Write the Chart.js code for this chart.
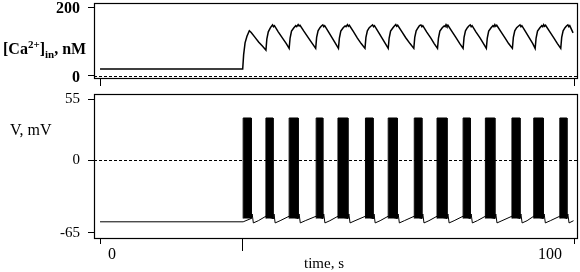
<!DOCTYPE html>
<html><head><meta charset="utf-8">
<script src="https://cdn.jsdelivr.net/npm/chart.js@4.4.1/dist/chart.umd.min.js"></script>
<style>
html,body{margin:0;padding:0;background:#fff;}
#wrap{position:relative;width:580px;height:272px;overflow:hidden;background:#fff;font-family:"Liberation Serif","Times New Roman",serif;color:#000;}
canvas{position:absolute;left:0;}
#c1{top:0}
#c2{top:90px}
.lbl{position:absolute;white-space:nowrap;line-height:1;}
#caT{left:3px;top:41px;font-size:16px;font-weight:bold;}
#caT sup{font-size:11px;vertical-align:0;position:relative;top:-6px;}
#caT sub{font-size:11px;vertical-align:0;position:relative;top:4px;}
#vT{left:10px;top:122px;font-size:16px;}
#tT{left:304px;top:256px;font-size:15px;}
</style></head>
<body><div id="wrap">
<canvas id="c1" width="580" height="90"></canvas>
<canvas id="c2" width="580" height="182"></canvas>
<div class="lbl" id="caT">[Ca<sup>2+</sup>]<sub>in</sub>, nM</div>
<div class="lbl" id="vT">V, mV</div>
<div class="lbl" id="tT">time, s</div>
</div>
<script>
// ---------- data ----------
const caTime = [0,30.1,30.3,30.6,31.0,31.5,31.9,32.7,33.5,34.3,35.0,
 35.2,35.5,35.9,36.1,36.4,36.6,36.8,37.6,38.5,39.3,39.9,
 40.1,40.4,40.9,41.3,41.5,41.8,42.0,42.2,43.0,44.0,44.8,45.5,
 45.7,46.0,46.4,46.7,47.0,47.2,47.4,48.2,49.0,49.7,50.3,
 50.5,50.8,51.3,51.7,51.9,52.2,52.4,52.6,53.4,54.3,55.1,55.9,
 56.1,56.4,56.8,57.2,57.5,57.7,57.9,58.7,59.5,60.2,60.8,
 61.0,61.3,61.8,62.1,62.4,62.6,62.8,63.6,64.5,65.4,66.2,
 66.4,66.7,67.1,67.4,67.7,67.9,68.1,68.9,69.8,70.5,71.2,
 71.4,71.7,72.2,72.6,72.8,73.0,73.2,73.4,74.2,75.1,75.9,76.6,
 76.8,77.1,77.5,77.8,78.1,78.3,78.5,79.3,80.2,80.9,81.5,
 81.7,82.0,82.5,82.9,83.1,83.3,83.5,83.7,84.5,85.4,86.2,87.0,
 87.2,87.5,87.9,88.3,88.6,88.8,89.0,89.8,90.6,91.3,91.8,
 92.0,92.3,92.8,93.2,93.4,93.6,93.8,94.0,94.8,95.7,96.5,97.2,
 97.4,97.7,98.1,98.4,98.7,98.9,99.1,99.8];
const caValue = [20,20,62,96,115,131,126,112,98,86,75,
 108,128,139,143,148,143,146,128,110,94,80,
 110,130,140,146,143,149,145,147,130,110,94,80,
 112,131,140,145,148,143,146,128,110,94,80,
 110,130,140,145,143,149,144,147,130,110,94,80,
 112,131,140,145,148,143,146,128,110,94,80,
 110,130,140,145,149,144,147,130,111,94,80,
 112,131,140,146,148,143,146,128,110,94,80,
 110,130,140,145,143,149,144,147,130,111,94,80,
 112,131,140,145,148,143,146,128,110,94,80,
 110,130,140,146,143,149,144,147,130,111,94,80,
 112,131,140,145,148,143,146,128,110,94,80,
 110,130,140,146,143,149,144,147,130,111,94,80,
 112,131,140,145,148,143,146,125];

const vTime = [0,30.2,
 31.9,32.1,32.35,33.4,35.0,
 36.5,36.7,36.95,38.0,39.9,
 41.8,42.0,42.25,43.3,45.6,
 47.0,47.2,47.45,48.5,50.2,
 52.3,52.5,52.75,53.8,56.0,
 57.6,57.8,58.05,59.1,60.8,
 62.7,62.9,63.15,64.2,66.3,
 67.9,68.1,68.35,69.4,71.1,
 73.2,73.4,73.65,74.7,76.6,
 78.1,78.3,78.55,79.6,81.3,
 83.3,83.5,83.75,84.8,86.9,
 88.6,88.8,89.05,90.1,91.5,
 93.5,93.7,93.95,95.0,97.0,
 98.5,98.7,98.95,99.9];
const vValue = [-55,-55,
 -52,-48,-56,-54,-50,
 -52,-48,-56,-54,-50,
 -52,-48,-56,-54,-50,
 -52,-48,-56,-54,-50,
 -52,-48,-56,-54,-50,
 -52,-48,-56,-54,-50,
 -52,-48,-56,-54,-50,
 -52,-48,-56,-54,-50,
 -52,-48,-56,-54,-50,
 -52,-48,-56,-54,-50,
 -52,-48,-56,-54,-50,
 -52,-48,-56,-54,-50,
 -52,-48,-56,-54,-50,
 -52,-48,-56,-54];

const burstStart = [30.2,35.0,39.9,45.6,50.2,56.0,60.8,66.3,71.1,76.6,81.3,86.9,91.5,97.0];
const burstEnd   = [31.9,36.5,41.8,47.0,52.3,57.6,62.7,67.9,73.2,78.1,83.3,88.6,93.5,98.5];
const spikePeak = 38;
const spikeBase = -52;

const xTicksTop = [0, 100];
const xTicksBottom = [0, 30, 100];
const stimOnset = 30;
const caTicks = [0, 200];
const vTicks = [-65, 0, 55];

// ---------- helpers ----------
const SERIF = '"Liberation Serif","Times New Roman",serif';
const xMin = -1.27, xMax = 100.84;

const framePlugin = {
  id: 'frame',
  beforeDatasetsDraw(chart) {
    const {ctx, chartArea: a, scales: {y}} = chart;
    const yy = Math.round(y.getPixelForValue(0)) + 0.5;
    ctx.save();
    ctx.strokeStyle = '#000'; ctx.lineWidth = 1; ctx.setLineDash([3, 2]);
    ctx.beginPath(); ctx.moveTo(a.left, yy); ctx.lineTo(a.right, yy); ctx.stroke();
    ctx.restore();
  },
  afterDraw(chart) {
    const {ctx, chartArea: a} = chart;
    ctx.save();
    ctx.strokeStyle = '#000'; ctx.lineWidth = 1.2;
    ctx.strokeRect(a.left + 0.5, a.top + 0.5, a.right - a.left - 1, a.bottom - a.top - 1);
    const on = chart.options.plugins.frame && chart.options.plugins.frame.onset;
    if (on !== undefined) {
      const x = Math.round(chart.scales.x.getPixelForValue(on)) + 0.5;
      ctx.lineWidth = 1;
      ctx.beginPath(); ctx.moveTo(x, a.bottom); ctx.lineTo(x, a.bottom + 12); ctx.stroke();
    }
    ctx.restore();
  }
};

function xScale(ticks, height, labels) {
  return {
    type: 'linear', min: xMin, max: xMax,
    afterBuildTicks: s => { s.ticks = ticks.map(v => ({value: v})); },
    afterFit: s => { s.height = height; s.paddingLeft = 0; s.paddingRight = 0; },
    ticks: {
      autoSkip: false, maxRotation: 0, align: 'inner', padding: 1,
      color: '#000', font: {family: SERIF, size: 16},
      callback: v => labels ? (v === 0 ? '  0' : (v === 100 ? '100   ' : '')) : ''
    },
    grid: {drawOnChartArea: false, drawTicks: true, tickLength: labels ? 5 : 7, color: '#000', tickWidth: 1},
    border: {display: false}
  };
}
function yScale(min, max, ticks, font, offset) {
  return {
    min, max,
    afterBuildTicks: s => { s.ticks = ticks.map(v => ({value: v})); },
    afterFit: s => { s.width = 94; s.paddingTop = 0; s.paddingBottom = 0; },
    ticks: {autoSkip: false, padding: 8, color: '#000', font, labelOffset: offset || 0},
    grid: {drawOnChartArea: false, drawTicks: true, tickLength: 6, color: '#000', tickWidth: 1},
    border: {display: false}
  };
}

const common = {
  responsive: false, animation: false, devicePixelRatio: 1,
  elements: {point: {radius: 0}, line: {tension: 0}},
  events: []
};

// ---------- top chart: calcium ----------
new Chart(document.getElementById('c1'), {
  type: 'line',
  data: {datasets: [{
    data: caTime.map((t, i) => ({x: t, y: caValue[i]})),
    borderColor: '#000', borderWidth: 1.5, fill: false, borderJoinStyle: 'miter'
  }]},
  options: Object.assign({}, common, {
    layout: {padding: {top: 3, right: 2, left: 0, bottom: 0}},
    plugins: {legend: {display: false}, tooltip: {enabled: false}, frame: {}},
    scales: {
      x: xScale(xTicksTop, 11, false),
      y: yScale(-8.7, 211.6, caTicks, {family: SERIF, size: 16, weight: 'bold'}, 2)
    }
  }),
  plugins: [framePlugin]
});

// ---------- bottom chart: voltage ----------
const burstSets = burstStart.map((s, i) => ({
  data: [{x: s, y: spikeBase}, {x: s, y: spikePeak}, {x: burstEnd[i], y: spikePeak}, {x: burstEnd[i], y: spikeBase}],
  borderColor: '#000', borderWidth: 1, backgroundColor: '#000', fill: {value: spikeBase},
  borderJoinStyle: 'miter', borderCapStyle: 'butt'
}));
new Chart(document.getElementById('c2'), {
  type: 'line',
  data: {datasets: [{
    data: vTime.map((t, i) => ({x: t, y: vValue[i]})),
    borderColor: '#000', borderWidth: 1, fill: false
  }].concat(burstSets)},
  options: Object.assign({}, common, {
    layout: {padding: {top: 4, right: 2, left: 0, bottom: 0}},
    plugins: {legend: {display: false}, tooltip: {enabled: false}, frame: {onset: stimOnset}},
    scales: {
      x: xScale(xTicksBottom, 33, true),
      y: yScale(-70.4, 59.5, vTicks, {family: SERIF, size: 15})
    }
  }),
  plugins: [framePlugin]
});
</script>
</body></html>
